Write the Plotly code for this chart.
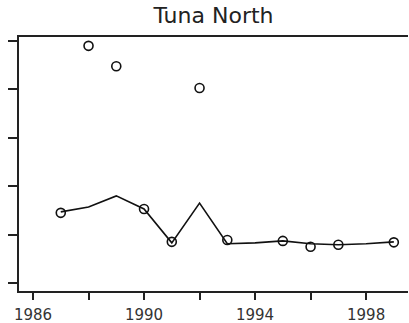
import plotly.graph_objects as go

# Observed points (open circles)
point_years = [1987, 1988, 1989, 1990, 1991, 1992, 1993, 1995, 1996, 1997, 1999]
point_values = [1.45, 4.90, 4.48, 1.53, 0.85, 4.03, 0.89, 0.87, 0.75, 0.79, 0.84]

# Fitted line
line_years = [1987, 1988, 1989, 1990, 1991, 1992, 1993, 1994, 1995, 1996, 1997, 1998, 1999]
line_values = [1.47, 1.57, 1.80, 1.53, 0.83, 1.65, 0.81, 0.83, 0.87, 0.81, 0.79, 0.81, 0.85]

x_tick_vals = [1986, 1988, 1990, 1992, 1994, 1996, 1998]
x_tick_text = ["1986", "", "1990", "", "1994", "", "1998"]
y_tick_vals = [0, 1, 2, 3, 4, 5]

title_text = "Tuna North"

fig = go.Figure()
fig.add_trace(go.Scatter(
    x=line_years, y=line_values, mode="lines",
    line=dict(color="#111111", width=1.6), hoverinfo="skip", showlegend=False,
))
fig.add_trace(go.Scatter(
    x=point_years, y=point_values, mode="markers",
    marker=dict(symbol="circle-open", size=9, color="#111111", line=dict(width=1.6)),
    showlegend=False,
))

fig.update_layout(
    width=409, height=323,
    margin=dict(l=19, r=1, t=37, b=32),
    paper_bgcolor="white", plot_bgcolor="white",
    title=dict(text=title_text, x=0.5, xref="paper", xanchor="center",
               y=1 - 8 / 323, yref="container", yanchor="top",
               font=dict(family="DejaVu Sans", size=22, color="#222222")),
    xaxis=dict(
        range=[1985.495, 1999.51], tickmode="array",
        tickvals=x_tick_vals, ticktext=x_tick_text,
        showgrid=False, zeroline=False, automargin=False,
        showline=True, linecolor="#222222", linewidth=1.6, mirror=True,
        ticks="outside", ticklen=7, tickwidth=1.5, tickcolor="#222222",
        ticklabelstandoff=2,
        tickfont=dict(family="DejaVu Sans", size=15, color="#333333"),
    ),
    yaxis=dict(
        range=[-0.165, 5.083], tickmode="array",
        tickvals=y_tick_vals, showticklabels=False,
        showgrid=False, zeroline=False, automargin=False,
        showline=True, linecolor="#222222", linewidth=1.6,
        ticks="outside", ticklen=9, tickwidth=1.5, tickcolor="#222222",
    ),
)

fig.write_html("out.html")
